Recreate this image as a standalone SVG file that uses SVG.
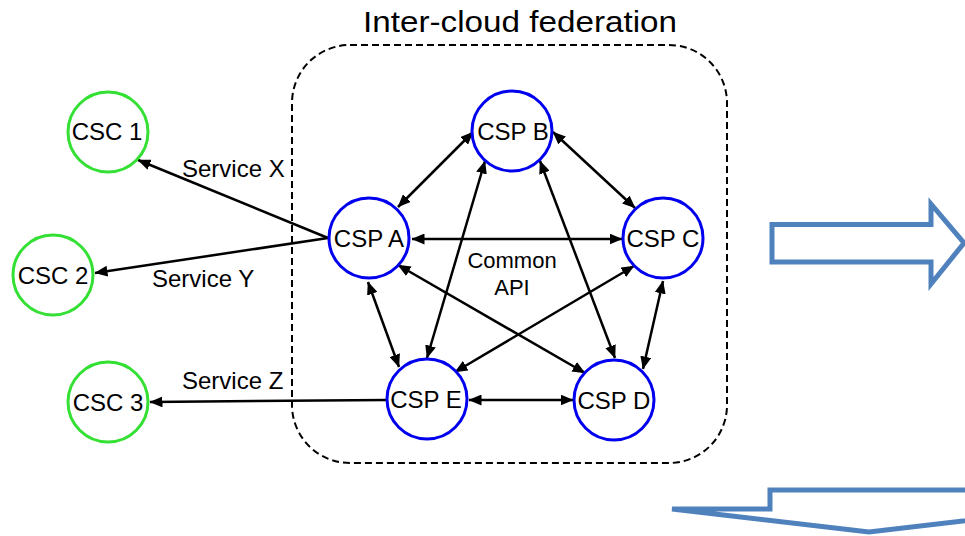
<svg xmlns="http://www.w3.org/2000/svg" width="965" height="536" viewBox="0 0 965 536">
  <defs>
    <marker id="head" viewBox="0 0 13 11" refX="12.5" refY="5.5" markerWidth="13" markerHeight="11" markerUnits="userSpaceOnUse" orient="auto-start-reverse">
      <path d="M0,0 L13,5.5 L0,11 z" fill="#000"/>
    </marker>
    <style>
      text { font-family: "Liberation Sans", Arial, sans-serif; fill: #000; }
      .lbl { font-size: 24px; text-anchor: middle; }
      .svc { font-size: 24px; }
      .csp { fill: #fff; stroke: #0000ee; stroke-width: 3; }
      .csc { fill: #fff; stroke: #33e033; stroke-width: 3; }
      .link { stroke: #000; stroke-width: 2.5; fill: none; marker-start: url(#head); marker-end: url(#head); }
      .one { stroke: #000; stroke-width: 2.5; fill: none; marker-end: url(#head); }
      .block { fill: #fff; stroke: #4f81bd; stroke-width: 5; stroke-linejoin: miter; }
    </style>
  </defs>

  <rect width="965" height="536" fill="#fff"/>

  <!-- federation boundary -->
  <g id="federation">
    <rect x="292" y="45" width="435" height="418" rx="58" ry="58" fill="none" stroke="#000" stroke-width="2" stroke-dasharray="7 4"/>
    <text x="520" y="32" font-size="30" text-anchor="middle" textLength="314" lengthAdjust="spacingAndGlyphs">Inter-cloud federation</text>
  </g>

  <!-- connectors -->
  <g id="connectors">
    <line class="link" x1="398" y1="207" x2="473" y2="132"/>
    <line class="link" x1="553" y1="132" x2="635" y2="208"/>
    <line class="link" x1="412" y1="239" x2="622" y2="239"/>
    <line class="link" x1="485" y1="161" x2="427" y2="358"/>
    <line class="link" x1="540" y1="161" x2="615" y2="358"/>
    <line class="link" x1="398" y1="265" x2="585" y2="373"/>
    <line class="link" x1="634" y1="266" x2="455" y2="372"/>
    <line class="link" x1="368" y1="282" x2="399" y2="367"/>
    <line class="link" x1="663" y1="281" x2="643" y2="369"/>
    <line class="link" x1="469" y1="400" x2="573" y2="400"/>
    <line class="one" x1="328" y1="238" x2="138" y2="160"/>
    <line class="one" x1="328" y1="238" x2="95" y2="273"/>
    <line class="one" x1="387" y1="400" x2="150" y2="402"/>
  </g>

  <g id="labels">
    <text class="svc" x="182" y="177">Service X</text>
    <text class="svc" x="152" y="287">Service Y</text>
    <text class="svc" x="182" y="389">Service Z</text>
    <text x="512" y="268" font-size="22" text-anchor="middle">Common</text>
    <text x="512" y="295" font-size="22" text-anchor="middle">API</text>
  </g>

  <!-- providers -->
  <g id="csp-a"><circle class="csp" cx="369" cy="238" r="40"/><text class="lbl" x="369" y="246.5">CSP A</text></g>
  <g id="csp-b"><circle class="csp" cx="512" cy="131" r="40"/><text class="lbl" x="513" y="139.5">CSP B</text></g>
  <g id="csp-c"><circle class="csp" cx="663" cy="238" r="40"/><text class="lbl" x="663" y="246.5">CSP C</text></g>
  <g id="csp-d"><circle class="csp" cx="614" cy="400" r="40"/><text class="lbl" x="614" y="408.5">CSP D</text></g>
  <g id="csp-e"><circle class="csp" cx="427" cy="399" r="40"/><text class="lbl" x="426" y="408">CSP E</text></g>

  <!-- consumers -->
  <g id="csc-1"><circle class="csc" cx="108" cy="132" r="40"/><text class="lbl" x="107" y="140">CSC 1</text></g>
  <g id="csc-2"><circle class="csc" cx="53" cy="275" r="40"/><text class="lbl" x="53" y="284">CSC 2</text></g>
  <g id="csc-3"><circle class="csc" cx="108" cy="402" r="40"/><text class="lbl" x="108" y="410.5">CSC 3</text></g>

  <!-- block arrows -->
  <g id="arrow-right">
    <path class="block" d="M772,224.5 L931,224.5 L931,204 L964,243 L931,284 L931,262 L772,262 Z"/>
  </g>
  <g id="arrow-down">
    <path class="block" d="M1000,490 L770,490 L770,509 L672,509 L869,532 L1066,509 L1000,509"/>
  </g>
</svg>
